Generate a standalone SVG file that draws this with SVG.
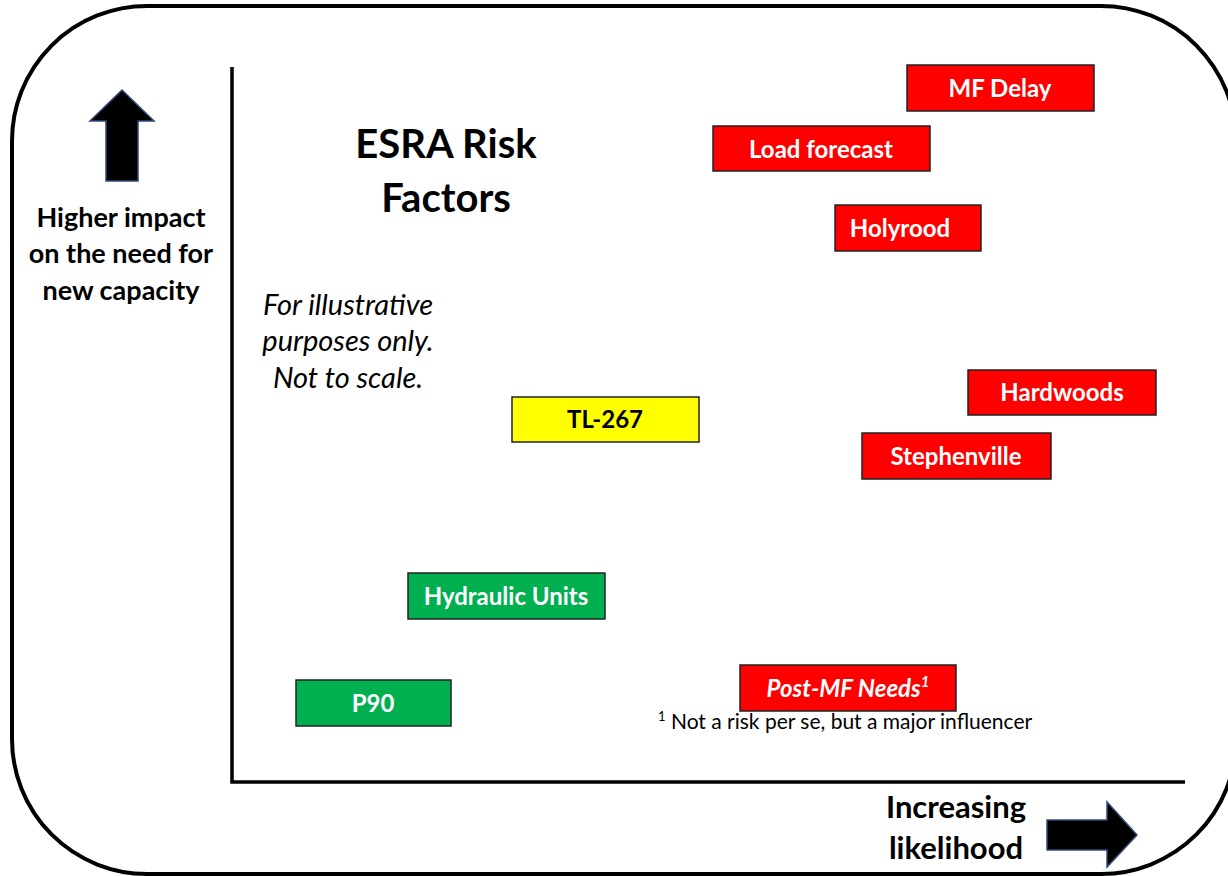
<svg xmlns="http://www.w3.org/2000/svg" width="1228" height="876" viewBox="0 0 1228 876">
<style>
.frame{fill:#fff;stroke:#000;stroke-width:4}
.axis{stroke:#000;stroke-width:3.5;fill:none}
.arrow{fill:#000;stroke:#2f4a7a;stroke-width:1.5}
.box{stroke:#222;stroke-width:1.5}
.red{fill:#ff0000}
.yellow{fill:#ffff00}
.green{fill:#00b050}
text{font-family:Lato,"Open Sans","Liberation Sans",sans-serif}
.lbl{font-size:24px;font-weight:bold;fill:#fff;text-anchor:middle}
.dark{fill:#000}
.axt{font-size:27px;font-weight:bold;fill:#000;text-anchor:middle}
.xt{font-size:31px}
.title{font-size:40px;font-weight:bold;fill:#000;text-anchor:middle}
.note{font-size:29px;font-style:italic;fill:#000;text-anchor:middle}
.foot{font-size:21px;fill:#000}
</style>
<rect class="frame" x="12" y="6" width="1224" height="868" rx="135" ry="135"/>
<g id="connectors">
<polyline class="axis" points="232,67 232,782 1185,782"/>
<polygon class="arrow" points="122,90 154,121 138,121 138,181 106,181 106,121 90,121"/>
<polygon class="arrow" points="1047,820 1107,820 1107,802 1137,835 1107,867 1107,850 1047,850"/>
</g>
<g id="y-label">
<text class="axt" x="121" y="227">Higher impact</text>
<text class="axt" x="121" y="263">on the need for</text>
<text class="axt" x="121" y="300">new capacity</text>
</g>
<g id="x-label">
<text class="axt xt" x="956" y="818">Increasing</text>
<text class="axt xt" x="956" y="859">likelihood</text>
</g>
<g id="title">
<text class="title" x="446" y="158">ESRA Risk</text>
<text class="title" x="446" y="212">Factors</text>
</g>
<g id="disclaimer">
<text class="note" x="348" y="315">For illustrative</text>
<text class="note" x="348" y="351">purposes only.</text>
<text class="note" x="348" y="388">Not to scale.</text>
</g>
<g id="mf-delay"><rect class="box red" x="907" y="65" width="187" height="46"/><text class="lbl" x="1000" y="97">MF Delay</text></g>
<g id="load-forecast"><rect class="box red" x="713" y="126" width="217" height="45"/><text class="lbl" x="821" y="158">Load forecast</text></g>
<g id="holyrood"><rect class="box red" x="835" y="205" width="146" height="46"/><text class="lbl" x="900" y="237">Holyrood</text></g>
<g id="hardwoods"><rect class="box red" x="968" y="370" width="188" height="45"/><text class="lbl" x="1062" y="401">Hardwoods</text></g>
<g id="stephenville"><rect class="box red" x="862" y="433" width="189" height="46"/><text class="lbl" x="956" y="465">Stephenville</text></g>
<g id="tl-267"><rect class="box yellow" x="512" y="397" width="187" height="45"/><text class="lbl dark" x="605" y="428">TL-267</text></g>
<g id="hydraulic-units"><rect class="box green" x="408" y="573" width="197" height="46"/><text class="lbl" x="506" y="605">Hydraulic Units</text></g>
<g id="p90"><rect class="box green" x="296" y="680" width="155" height="46"/><text class="lbl" x="373" y="712">P90</text></g>
<g id="post-mf-needs"><rect class="box red" x="740" y="665" width="216" height="46"/><text class="lbl" x="848" y="697" style="font-style:italic">Post-MF Needs<tspan font-size="15" dy="-10">1</tspan></text></g>
<g id="footnote"><text class="foot" x="658" y="729"><tspan font-size="13" dy="-8">1</tspan><tspan dy="8"> Not a risk per se, but a major influencer</tspan></text></g>
</svg>
